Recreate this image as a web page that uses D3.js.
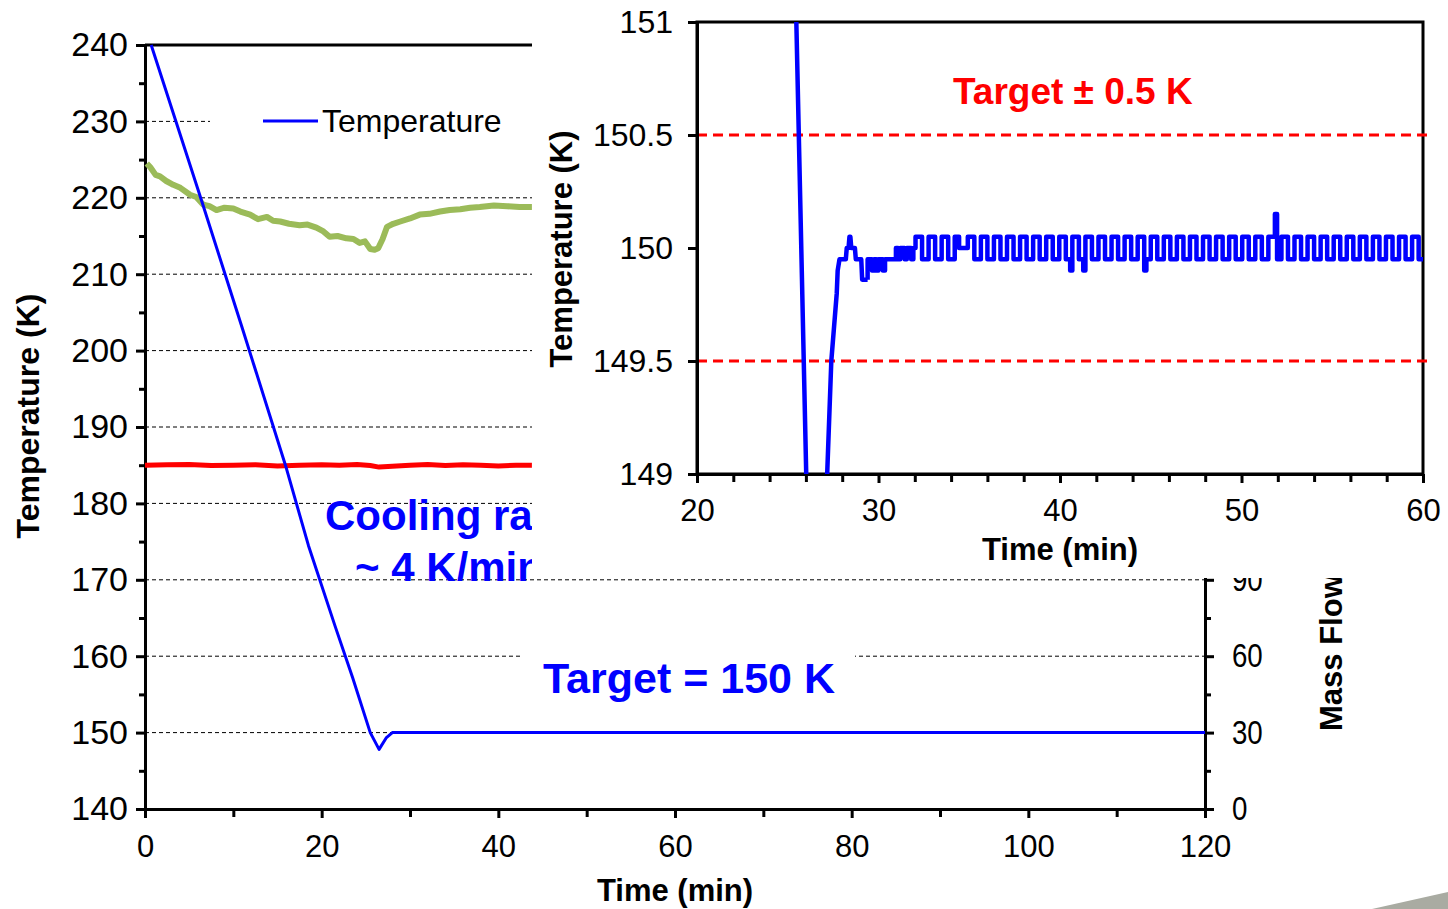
<!DOCTYPE html>
<html>
<head>
<meta charset="utf-8">
<script src="https://cdn.jsdelivr.net/npm/d3@7"></script>
<style>
  body { margin: 0; background: #fff; }
  svg { display: block; }
  text { font-family: "Liberation Sans", Arial, sans-serif; }
</style>
</head>
<body>
<svg id="chart" width="1448" height="909"></svg>
<script>
// ---- main chart: temperatures vs time (min) ----
const blueT = [0.7, 6.3, 11, 15.9, 18.5, 21.5, 23.5, 25.5, 26.5, 27.3, 28, 35, 60, 90, 120];
const blueV = [240, 220, 203, 185, 174.5, 164, 157.2, 150, 147.8, 149.3, 150, 150, 150, 150, 150];

const greenT = [0.2, 0.6, 1.2, 1.7, 2.4, 3.2, 4.0, 5.1, 5.8, 6.6, 7.3, 8.1, 9.0, 10, 10.8, 11.9, 12.8, 13.8, 14.5, 15.3, 16.3, 17.5, 18.4, 19.4, 20.2, 20.9, 21.8, 22.8, 23.6, 24.3, 24.9, 25.5, 26.0, 26.4, 26.9, 27.4, 28.1, 28.9, 30.0, 31.1, 32.2, 33.4, 34.5, 35.7, 36.8, 37.9, 39.5, 41, 42.4, 43.8];
const greenV = [224.5, 224.0, 223.0, 222.8, 222.2, 221.7, 221.3, 220.4, 220.1, 219.1, 218.9, 218.4, 218.7, 218.6, 218.2, 217.8, 217.2, 217.5, 217.0, 216.9, 216.6, 216.4, 216.5, 216.1, 215.6, 214.9, 215.0, 214.7, 214.6, 214.1, 214.3, 213.3, 213.2, 213.4, 214.6, 216.2, 216.6, 216.9, 217.3, 217.8, 217.9, 218.2, 218.4, 218.5, 218.7, 218.8, 219.0, 218.9, 218.8, 218.8];

const redT = [0, 2.5, 5, 7.5, 10, 12.5, 15, 17.5, 20, 22, 24, 25.5, 26.5, 28, 30, 32, 34, 36, 38, 40, 42, 43.8];
const redV = [185.0, 185.05, 185.1, 184.95, 185.0, 185.05, 184.9, 185.0, 185.05, 185.0, 185.1, 184.95, 184.75, 184.85, 185.0, 185.1, 184.95, 185.05, 185.0, 184.9, 185.0, 185.0];

const tempTicks = [140, 150, 160, 170, 180, 190, 200, 210, 220, 230, 240];
const tempMinor = [145, 155, 165, 175, 185, 195, 205, 215, 225, 235];
const gridTemps = [150, 160, 170, 180, 190, 200, 210, 220, 230];
const timeTicks = [0, 20, 40, 60, 80, 100, 120];
const timeMinor = [10, 30, 50, 70, 90, 110];
const flowTicks = [0, 30, 60, 90];
const flowMinor = [15, 45, 75];

// ---- inset: zoom around the target ----
const insetT = [25.2, 26.1, 26.5, 26.9, 27.4, 27.7, 27.75, 27.85, 28.2, 28.25, 28.35, 28.4, 28.45, 28.5, 28.7, 28.75, 29.05, 29.1, 29.4];
const insetV = [152, 148.7, 147.9, 148.4, 149.5, 149.8, 149.9, 149.95, 149.95, 150.0, 150.0, 150.05, 150.05, 150.0, 150.0, 149.95, 149.95, 149.86, 149.86];
// controller output after 29.4 min, one letter per 0.12 min
const insetStepStart = 29.4, insetStep = 0.12;
const insetSteps =
  "LLDLDLLDLLLLL" + "MLMMLMMLM" +
  "HHHLLL HHHLLL HHHLLL HHMMMM HHHLLL HHHLLL HHHLLL HHHLLL HHHLLL HHHLLL HHHLLL " +
  "HHHLLD HHHLLD HHHLLL HHHLLL HHHLLL HHHLLL HHHDLL " +
  "HHHLLL HHHLLL HHHLLL HHHLLL HHHLLL HHHLLL HHHLLL HHHLLL HHHLLL HHHSLL " +
  "HHHLLL HHHLLL HHHLLL HHHLLL HHHLLL HHHLLL HHHLLL HHHLLL HHHLLL HHHLLL HHHLL";
const stepLevels = { H: 150.05, M: 150.0, L: 149.95, D: 149.9, S: 150.15 };
const insetTempTicks = [149, 149.5, 150, 150.5, 151];
const insetTimeTicks = [20, 30, 40, 50, 60];
const insetTimeMinor = [22, 24, 26, 28, 32, 34, 36, 38, 42, 44, 46, 48, 52, 54, 56, 58];
const insetLimits = [149.5, 150.5];

const svg = d3.select("#chart");
const FONT = '"Liberation Sans", Arial, sans-serif';

const x = d3.scaleLinear().domain([0, 120]).range([145, 1205]);
const y = d3.scaleLinear().domain([140, 240]).range([809, 45]);
const yFlow = d3.scaleLinear().domain([0, 300]).range([809, 45]);

function styleAxis(g, size) {
  g.attr("font-size", null).attr("font-family", null);
  g.selectAll("path, line").attr("stroke", "#000").attr("stroke-width", 3);
  g.selectAll("text").attr("fill", "#000").attr("font-size", size || 31).attr("font-family", FONT);
}

// grid
svg.append("g").selectAll("line").data(gridTemps).join("line")
    .attr("x1", x(0)).attr("x2", x(120))
    .attr("y1", d => y(d)).attr("y2", d => y(d))
    .attr("stroke", "#000").attr("stroke-width", 1)
    .attr("stroke-dasharray", "4,3");

// top border
svg.append("line")
    .attr("x1", x(0)).attr("x2", x(120)).attr("y1", y(240)).attr("y2", y(240))
    .attr("stroke", "#000").attr("stroke-width", 3);

// axes
svg.append("g").attr("transform", `translate(${x(0)},0)`)
    .call(d3.axisLeft(y).tickValues(tempMinor).tickSize(6).tickFormat(""))
    .call(g => g.select(".domain").remove())
    .call(styleAxis);
svg.append("g").attr("transform", `translate(${x(0)},0)`)
    .call(d3.axisLeft(y).tickValues(tempTicks).tickSize(9).tickSizeOuter(0).tickPadding(8))
    .call(g => styleAxis(g, 34));
svg.append("g").attr("transform", `translate(0,${y(140)})`)
    .call(d3.axisBottom(x).tickValues(timeMinor).tickSize(8).tickFormat(""))
    .call(g => g.select(".domain").remove())
    .call(styleAxis);
svg.append("g").attr("transform", `translate(0,${y(140)})`)
    .call(d3.axisBottom(x).tickValues(timeTicks).tickSize(9).tickSizeOuter(0).tickPadding(17))
    .call(styleAxis);
svg.append("g").attr("transform", `translate(${x(120)},0)`)
    .call(d3.axisRight(yFlow).tickValues(flowMinor).tickSize(6).tickFormat(""))
    .call(g => g.select(".domain").remove())
    .call(styleAxis);
svg.append("g").attr("transform", `translate(${x(120)},0)`)
    .call(d3.axisRight(yFlow).tickValues(flowTicks).tickSize(9).tickSizeOuter(0).tickPadding(18))
    .call(g => styleAxis(g, 33))
    .selectAll("text").attr("x", 32).attr("transform", "scale(0.84,1)");

// series
const lineMain = d3.line().x(d => x(d[0])).y(d => y(d[1]));
svg.append("path").datum(d3.zip(greenT, greenV))
    .attr("fill", "none").attr("stroke", "#9bbb59").attr("stroke-width", 6)
    .attr("stroke-linejoin", "round").attr("d", lineMain);
svg.append("path").datum(d3.zip(redT, redV))
    .attr("fill", "none").attr("stroke", "#ff0000").attr("stroke-width", 5)
    .attr("stroke-linejoin", "round").attr("d", lineMain);
svg.append("path").datum(d3.zip(blueT, blueV))
    .attr("fill", "none").attr("stroke", "#0000ff").attr("stroke-width", 3)
    .attr("stroke-linejoin", "round").attr("d", lineMain);

// legend
svg.append("rect").attr("x", 210).attr("y", 100).attr("width", 322).attr("height", 45).attr("fill", "#fff");
svg.append("line").attr("x1", 263).attr("x2", 318).attr("y1", 121).attr("y2", 121)
    .attr("stroke", "#0000ff").attr("stroke-width", 3);
svg.append("text").attr("x", 322).attr("y", 132).attr("font-size", 32).text("Temperature");

// axis titles
svg.append("text").attr("transform", "translate(39,416) rotate(-90)")
    .attr("text-anchor", "middle").attr("font-size", 32).attr("font-weight", "bold").text("Temperature (K)");
svg.append("text").attr("x", 675).attr("y", 901)
    .attr("text-anchor", "middle").attr("font-size", 31).attr("font-weight", "bold").text("Time (min)");
svg.append("text").attr("transform", "translate(1342,731) rotate(-90)")
    .attr("text-anchor", "start").attr("font-size", 31).attr("font-weight", "bold").text("Mass Flow");

// target label
svg.append("rect").attr("x", 523).attr("y", 640).attr("width", 332).attr("height", 60).attr("fill", "#fff");
svg.append("text").attr("x", 543).attr("y", 693).attr("font-size", 43).attr("font-weight", "bold")
    .attr("fill", "#0000ff").text("Target = 150 K");

// cooling rate note, partly hidden by the inset
const defs = svg.append("defs");
defs.append("clipPath").attr("id", "coolClip").append("rect")
    .attr("x", 0).attr("y", 0).attr("width", 532).attr("height", 581);
const cool = svg.append("g").attr("clip-path", "url(#coolClip)");
cool.append("text").attr("x", 325).attr("y", 530).attr("font-size", 42)
    .attr("font-weight", "bold").attr("fill", "#0000ff").text("Cooling rate");
cool.append("text").attr("x", 355).attr("y", 582).attr("font-size", 42)
    .attr("font-weight", "bold").attr("fill", "#0000ff").text("~ 4 K/min");

// ---- inset ----
svg.append("rect").attr("x", 532).attr("y", 0).attr("width", 916).attr("height", 578).attr("fill", "#fff");

const xi = d3.scaleLinear().domain([20, 60]).range([697, 1423]);
const yi = d3.scaleLinear().domain([149, 151]).range([474, 22]);

defs.append("clipPath").attr("id", "insetClip").append("rect")
    .attr("x", 697).attr("y", 22).attr("width", 726).attr("height", 452);

svg.append("rect").attr("x", 697).attr("y", 22).attr("width", 726).attr("height", 452)
    .attr("fill", "none").attr("stroke", "#000").attr("stroke-width", 3);

svg.append("g").selectAll("line").data(insetLimits).join("line")
    .attr("x1", xi(20)).attr("x2", xi(60) + 9)
    .attr("y1", d => yi(d)).attr("y2", d => yi(d))
    .attr("stroke", "#ff0000").attr("stroke-width", 3).attr("stroke-dasharray", "10,6");

svg.append("g").attr("transform", `translate(${xi(20)},0)`)
    .call(d3.axisLeft(yi).tickValues(insetTempTicks).tickSize(9).tickSizeOuter(0).tickPadding(15).tickFormat(d => d))
    .call(g => styleAxis(g, 32));
svg.append("g").attr("transform", `translate(0,${yi(149)})`)
    .call(d3.axisBottom(xi).tickValues(insetTimeMinor).tickSize(8).tickFormat(""))
    .call(g => g.select(".domain").remove())
    .call(styleAxis);
svg.append("g").attr("transform", `translate(0,${yi(149)})`)
    .call(d3.axisBottom(xi).tickValues(insetTimeTicks).tickSize(9).tickSizeOuter(0).tickPadding(16))
    .call(g => styleAxis(g, 31));

const insetLine = d3.line().x(d => xi(d[0])).y(d => yi(d[1]));
const stepPts = insetSteps.replace(/ /g, "").split("")
    .map((c, i) => [insetStepStart + i * insetStep, stepLevels[c]]);
stepPts.push([60, stepPts[stepPts.length - 1][1]]);

const insetG = svg.append("g").attr("clip-path", "url(#insetClip)");
insetG.append("path").datum(d3.zip(insetT, insetV))
    .attr("fill", "none").attr("stroke", "#0000ff").attr("stroke-width", 4.5)
    .attr("stroke-linejoin", "round").attr("d", insetLine);
insetG.append("path").datum([[29.4, 149.86]].concat(stepPts))
    .attr("fill", "none").attr("stroke", "#0000ff").attr("stroke-width", 4.5)
    .attr("stroke-linejoin", "round").attr("d", insetLine.curve(d3.curveStepAfter));

svg.append("text").attr("transform", "translate(572,249) rotate(-90)")
    .attr("text-anchor", "middle").attr("font-size", 31).attr("font-weight", "bold").text("Temperature (K)");
svg.append("text").attr("x", 1060).attr("y", 560)
    .attr("text-anchor", "middle").attr("font-size", 31).attr("font-weight", "bold").text("Time (min)");
svg.append("text").attr("x", 953).attr("y", 104).attr("font-size", 37).attr("font-weight", "bold")
    .attr("fill", "#ff0000").text("Target \u00b1 0.5 K");

// slide corner decoration
svg.append("polygon").attr("points", "1372,909 1448,892 1448,909").attr("fill", "#a9aba2");
</script>
</body>
</html>
